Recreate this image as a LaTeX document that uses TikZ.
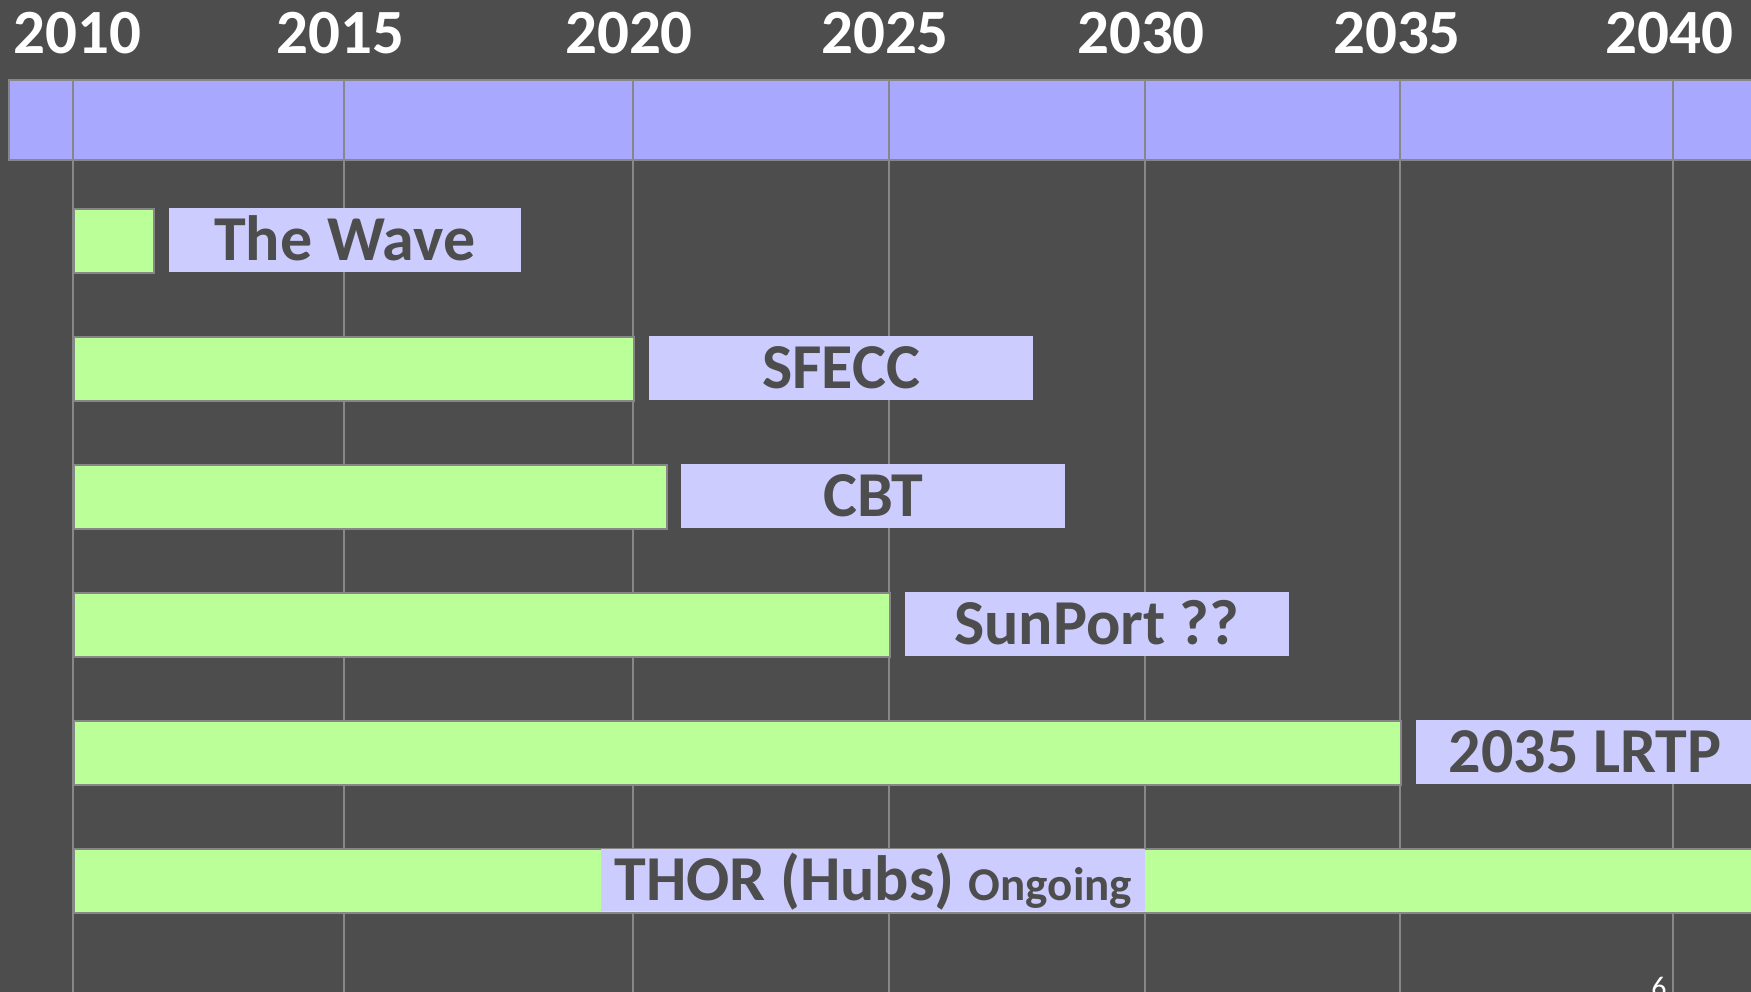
\documentclass[tikz,border=0pt]{standalone}
\usepackage{fontspec}
\setmainfont{Carlito}
\definecolor{bgcol}{HTML}{4D4D4D}
\definecolor{bandcol}{HTML}{A8A8FF}
\definecolor{barcol}{HTML}{BBFF99}
\definecolor{tagcol}{HTML}{CCCCFF}
\definecolor{gridcol}{HTML}{878787}
\begin{document}
\begin{tikzpicture}[x=1pt,y=-1pt,
		bar/.style={draw=gridcol,line width=2pt,fill=barcol,minimum height=64pt,anchor=north west,inner sep=0pt},
		tag/.style={fill=tagcol,minimum height=64pt,anchor=north west,inner sep=0pt,text=bgcol,text height=41pt,text depth=0pt,font=\fontsize{64}{64}\selectfont\bfseries},
		year/.style={text=white,font=\fontsize{63}{63}\selectfont\bfseries}]
		\useasboundingbox (0,0) rectangle (1751,992);
		\fill[bgcol] (0,0) rectangle (1751,992);
		\clip (0,0) rectangle (1751,992);
		
		% time axis
		\draw[gridcol,line width=2pt,fill=bandcol] (9,80) rectangle (1760,160);
		\foreach \x/\lx/\yr in {72.6/77.6/2010,344/340.5/2015,633/629/2020,889/885/2025,1145/1141/2030,1400/1397/2035,1673/1669.5/2040}{
			\draw[gridcol,line width=2pt] (\x,80) -- (\x,1000);
			\node[year] (y\yr) at (\lx,33.5) {\yr};
		}
		
		% projects
		\node[bar,minimum width=80.4pt] (wavebar) at (72.6,208) {};
		\node[tag,minimum width=352pt] (wave) at (168.6,208) {The Wave};
		
		\node[bar,minimum width=560.4pt] (sfeccbar) at (72.6,336) {};
		\node[tag,minimum width=384pt] (sfecc) at (648.8,336) {SFECC};
		
		\node[bar,minimum width=593pt] (cbtbar) at (72.6,464) {};
		\node[tag,minimum width=384pt] (cbt) at (681,464) {CBT};
		
		\node[bar,minimum width=816.4pt] (sunportbar) at (72.6,592) {};
		\node[tag,minimum width=384pt] (sunport) at (904.5,592) {SunPort ??};
		
		\node[bar,minimum width=1327.4pt] (lrtpbar) at (72.6,720) {};
		\node[tag,minimum width=338pt] (lrtp) at (1416,720) {2035 LRTP};
		
		\node[bar,minimum width=1690pt] (thorbar) at (72.6,848) {};
		\node[tag,minimum width=544pt,minimum height=62pt] (thor) at (601,849) {THOR (Hubs) {\fontsize{47}{47}\selectfont Ongoing}};
		
		\node[text=white,font=\fontsize{30}{30}\selectfont,anchor=north,inner sep=0pt] (pageno) at (1659,977) {6};
	\end{tikzpicture}
\end{document}
